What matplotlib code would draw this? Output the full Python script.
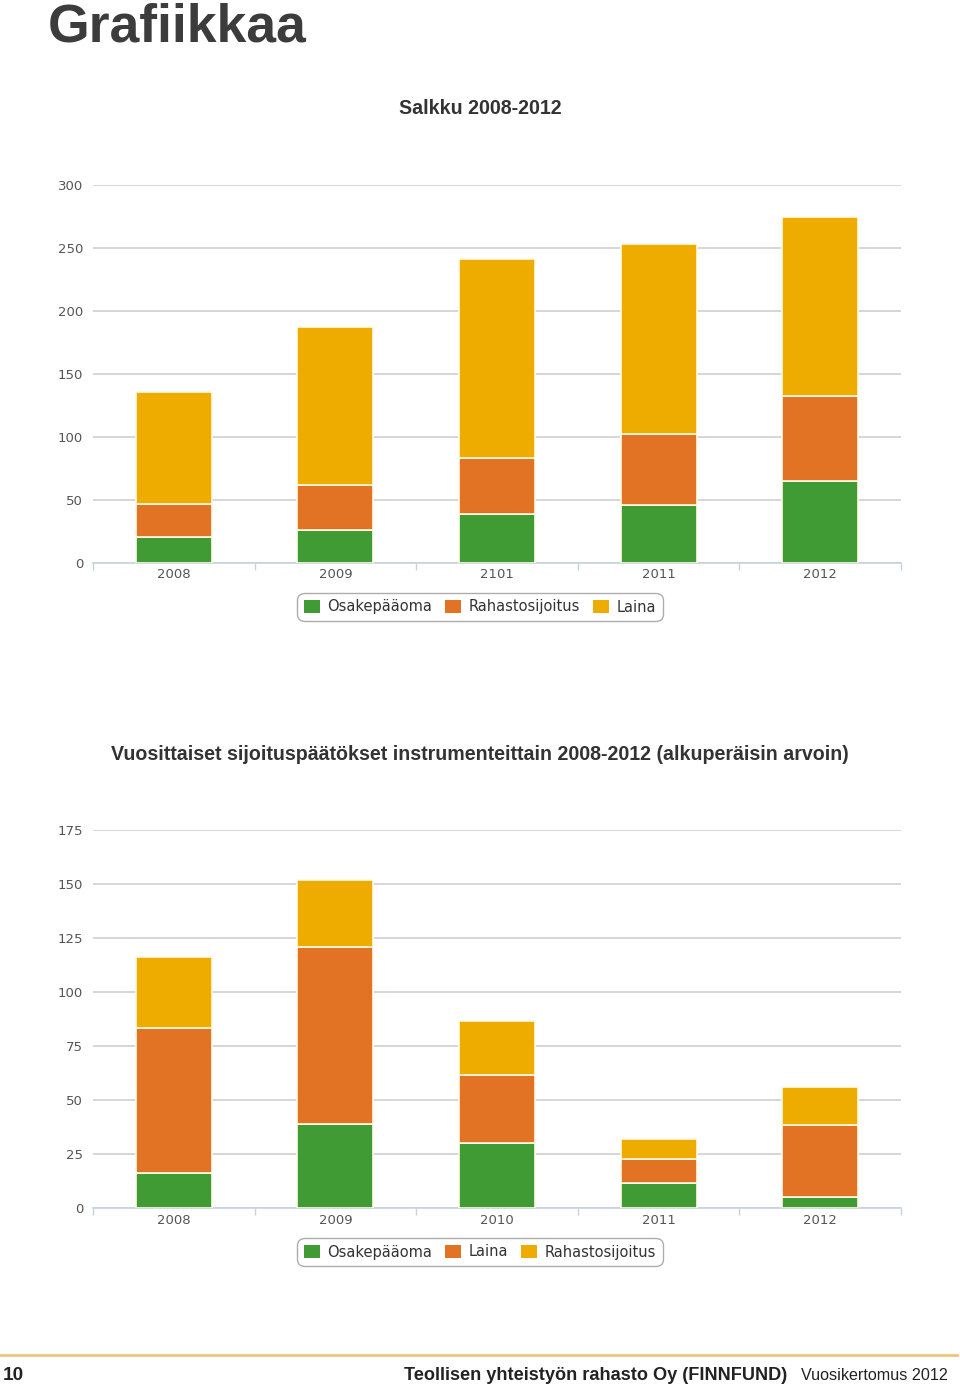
import matplotlib
matplotlib.use("Agg")
import matplotlib.pyplot as plt
import numpy as np
from matplotlib.patches import Rectangle
from matplotlib.lines import Line2D

# ---- data ----
years1 = ["2008", "2009", "2101", "2011", "2012"]
osake1 = [20.5, 26, 39, 45.5, 65]
rahasto1 = [26, 36, 44, 56.5, 67.5]
laina1 = [89, 125, 158, 151, 142]

years2 = ["2008", "2009", "2010", "2011", "2012"]
osake2 = [16, 39, 30, 11.5, 5]
laina2 = [67.5, 82, 31.5, 11, 33.5]
rahasto2 = [32.5, 31, 25, 9.5, 17.5]

GREEN = "#409b35"
ORANGE = "#e27224"
YELLOW = "#eeac00"
GRID = "#cccccc"
TXT = "#555555"

fig = plt.figure(figsize=(9.6, 13.87), dpi=100)
W, H = 960, 1387

def ax_rect(left, top, right, bottom):
    return [left / W, 1 - bottom / H, (right - left) / W, (bottom - top) / H]

def stacked(ax, cats, series, colors, ymax, step):
    x = np.arange(len(cats))
    base = np.zeros(len(cats))
    for vals, c in zip(series, colors):
        ax.bar(x, vals, width=0.47, bottom=base, color=c, edgecolor="#fffbe8",
               linewidth=1.2, zorder=3)
        base += np.array(vals)
    ax.set_xlim(-0.5, len(cats) - 0.5)
    ax.set_ylim(0, ymax)
    ax.set_yticks(np.arange(0, ymax + 1, step))
    ax.yaxis.grid(True, color=GRID, linewidth=1.1, zorder=0)
    ax.set_axisbelow(True)
    for s in ["top", "right", "left"]:
        ax.spines[s].set_visible(False)
    ax.spines["bottom"].set_color("#c6d3dc")
    ax.spines["bottom"].set_linewidth(1.2)
    ax.set_xticks(x)
    ax.set_xticklabels(cats)
    ax.set_xticks(np.arange(-0.5, len(cats)), minor=True)
    ax.tick_params(axis="x", which="major", length=0, pad=4, labelsize=9.5, labelcolor=TXT)
    ax.tick_params(axis="x", which="minor", length=5, color="#c6d3dc", width=1)
    ax.tick_params(axis="y", length=0, pad=7, labelsize=9.5, labelcolor=TXT)
    for lab in ax.get_xticklabels() + ax.get_yticklabels():
        lab.set_family("DejaVu Sans")

def legend(ax, labels, colors, cx, cy):
    handles = [Rectangle((0, 0), 1, 1, facecolor=c, edgecolor="none") for c in colors]
    leg = ax.legend(handles, labels, loc="center", bbox_to_anchor=(cx / W, 1 - cy / H),
                    bbox_transform=fig.transFigure, ncol=3, frameon=True, fancybox=True,
                    handlelength=1.1, handleheight=1.0, handletextpad=0.5,
                    columnspacing=0.9, borderpad=0.45,
                    prop={"family": "DejaVu Sans", "size": 10.5})
    fr = leg.get_frame()
    fr.set_edgecolor("#999999")
    fr.set_linewidth(1.0)
    fr.set_boxstyle("round,pad=0.,rounding_size=0.5")
    for t in leg.get_texts():
        t.set_color("#333333")

ax1 = fig.add_axes(ax_rect(93, 185, 901, 562.7))
stacked(ax1, years1, [osake1, rahasto1, laina1], [GREEN, ORANGE, YELLOW], 300, 50)
legend(ax1, ["Osakepääoma", "Rahastosijoitus", "Laina"], [GREEN, ORANGE, YELLOW], 480, 607)

ax2 = fig.add_axes(ax_rect(93, 830, 901, 1208))
stacked(ax2, years2, [osake2, laina2, rahasto2], [GREEN, ORANGE, YELLOW], 175, 25)
legend(ax2, ["Osakepääoma", "Laina", "Rahastosijoitus"], [GREEN, ORANGE, YELLOW], 480, 1252)

# ---- titles ----
fig.text(48 / W, 1 - 41 / H, "Grafiikkaa", fontsize=38.5, fontweight="bold",
         color="#3c3c3c", family="Liberation Sans", ha="left", va="baseline")
fig.text(480 / W, 1 - 108.5 / H, "Salkku 2008-2012", fontsize=14.1, fontweight="bold",
         color="#333333", family="Liberation Sans", ha="center", va="center")
fig.text(480 / W, 1 - 754.5 / H,
         "Vuosittaiset sijoituspäätökset instrumenteittain 2008-2012 (alkuperäisin arvoin)",
         fontsize=14.1, fontweight="bold", color="#333333", family="Liberation Sans",
         ha="center", va="center")

# ---- footer ----
fig.add_artist(Line2D([0, 957 / W], [1 - 1355 / H, 1 - 1355 / H], color="#ebc878",
                      linewidth=2, transform=fig.transFigure))
renderer = fig.canvas.get_renderer()

def fitted(x_px, text, target_w, weight, size0, ha="right"):
    t = fig.text(x_px / W, 1 - 1380 / H, text, fontsize=size0, fontweight=weight,
                 color="#222222", family="Liberation Sans", ha=ha, va="baseline")
    w = t.get_window_extent(renderer).width
    t.set_fontsize(size0 * target_w / w)
    return t

fitted(948, "Vuosikertomus 2012", 147, "normal", 12)
tb = fitted(787, "Teollisen yhteistyön rahasto Oy (FINNFUND)", 380, "bold", 13)
fig.text(3 / W, 1 - 1380 / H, "10", fontsize=tb.get_fontsize() * 1.05, fontweight="bold",
         color="#222222", family="Liberation Sans", ha="left", va="baseline")

fig.savefig("out.png", dpi=100, facecolor="white")
